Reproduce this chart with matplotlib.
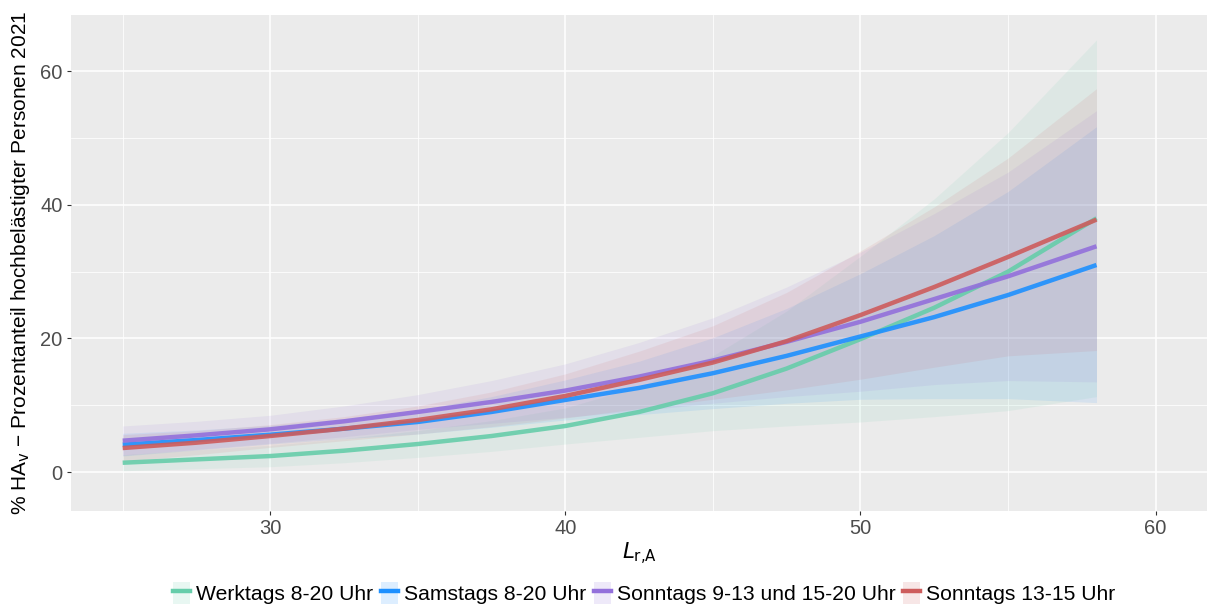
import numpy as np
import matplotlib
matplotlib.use("Agg")
import matplotlib.pyplot as plt
from matplotlib.lines import Line2D
from matplotlib.patches import Patch

plt.rcParams["font.family"] = ["Liberation Sans", "DejaVu Sans"]

# level L_r,A
x = [25, 27.5, 30, 32.5, 35, 37.5, 40, 42.5, 45, 47.5, 50, 52.5, 55, 58]

labels = ["Werktags 8-20 Uhr", "Samstags 8-20 Uhr",
          "Sonntags 9-13 und 15-20 Uhr", "Sonntags 13-15 Uhr"]
colors = ["#66CDAA", "#1E90FF", "#9370DB", "#CD5C5C"]

werktags = [1.4, 1.9, 2.4, 3.2, 4.2, 5.4, 6.9, 9.0, 11.8, 15.5, 19.9, 24.6, 30.0, 38.0]
werktags_lo = [0.2, 0.5, 0.8, 1.4, 2.2, 3.1, 4.2, 5.2, 6.2, 6.9, 7.5, 8.3, 9.2, 11.3]
werktags_hi = [2.6, 3.3, 4.0, 5.0, 6.2, 7.7, 9.6, 12.8, 17.4, 24.1, 32.3, 40.9, 50.8, 64.7]

samstags = [4.1, 4.8, 5.6, 6.5, 7.5, 9.0, 10.8, 12.6, 14.8, 17.4, 20.3, 23.2, 26.5, 31.0]
samstags_lo = [2.4, 3.3, 4.2, 5.0, 5.7, 6.7, 7.8, 8.6, 9.5, 10.3, 10.9, 11.0, 11.0, 10.4]
samstags_hi = [5.8, 6.3, 7.0, 8.0, 9.3, 11.3, 13.8, 16.6, 20.1, 24.5, 29.7, 35.4, 42.0, 51.7]

sonntags = [4.7, 5.5, 6.4, 7.6, 9.0, 10.5, 12.2, 14.3, 16.7, 19.5, 22.5, 25.9, 29.3, 33.8]
sonntags_lo = [2.5, 3.4, 4.3, 5.3, 6.4, 7.3, 8.2, 9.2, 10.3, 11.3, 12.1, 13.1, 13.7, 13.5]
sonntags_hi = [6.9, 7.6, 8.5, 9.9, 11.6, 13.7, 16.2, 19.4, 23.1, 27.7, 32.9, 38.7, 44.9, 54.1]

mittag = [3.6, 4.4, 5.4, 6.5, 7.8, 9.4, 11.4, 13.8, 16.4, 19.6, 23.5, 27.7, 32.2, 37.8]
mittag_lo = [1.6, 2.6, 3.7, 4.7, 5.7, 6.8, 8.1, 9.5, 10.9, 12.3, 13.9, 15.7, 17.4, 18.2]
mittag_hi = [5.6, 6.2, 7.1, 8.3, 9.9, 12.0, 14.7, 18.1, 21.9, 26.9, 33.1, 39.7, 47.0, 57.4]

series = [(werktags, werktags_lo, werktags_hi),
          (samstags, samstags_lo, samstags_hi),
          (sonntags, sonntags_lo, sonntags_hi),
          (mittag, mittag_lo, mittag_hi)]

fig = plt.figure(figsize=(12.08, 6.07), dpi=100)
ax = fig.add_axes([0.0588, 0.158, 0.9405, 0.817])
ax.set_facecolor("#EBEBEB")

for (mid, lo, hi), c in zip(series, colors):
    ax.fill_between(x, lo, hi, color=c, alpha=0.1, linewidth=0)
for (mid, lo, hi), c in zip(series, colors):
    ax.plot(x, mid, color=c, linewidth=3.2, alpha=0.9, solid_capstyle="butt")

ax.set_xlim(23.25, 61.75)
ax.set_ylim(-5.84, 68.4)
ax.set_xticks([30, 40, 50, 60])
ax.set_yticks([0, 20, 40, 60])
ax.set_xticks([25, 35, 45, 55], minor=True)
ax.set_yticks([10, 30, 50], minor=True)
ax.grid(True, which="major", color="white", linewidth=1.1)
ax.grid(True, which="minor", color="white", linewidth=0.55)
ax.set_axisbelow(True)
for s in ax.spines.values():
    s.set_visible(False)
ax.tick_params(which="major", length=3, color="#333333", labelsize=14.5,
               labelcolor="#4D4D4D", pad=3)
ax.tick_params(which="minor", length=0)

ax.set_xlabel(r"$L_{\mathrm{r{,}A}}$", fontsize=15.5, labelpad=2)
ax.set_ylabel(r"% HA$_\mathrm{v}$ − Prozentanteil hochbelästigter Personen 2021",
              fontsize=15, labelpad=6)

handles = [(Patch(facecolor=c, alpha=0.15, edgecolor="none"),
            Line2D([], [], color=c, linewidth=3.2)) for c in colors]
fig.legend(handles, labels, loc="center", bbox_to_anchor=(0.5335, 14 / 607),
           ncol=4, frameon=False, fontsize=15.2, handlelength=0.8,
           handleheight=1.2, handletextpad=0.3, columnspacing=0.35)

fig.savefig("out.png", dpi=100)
